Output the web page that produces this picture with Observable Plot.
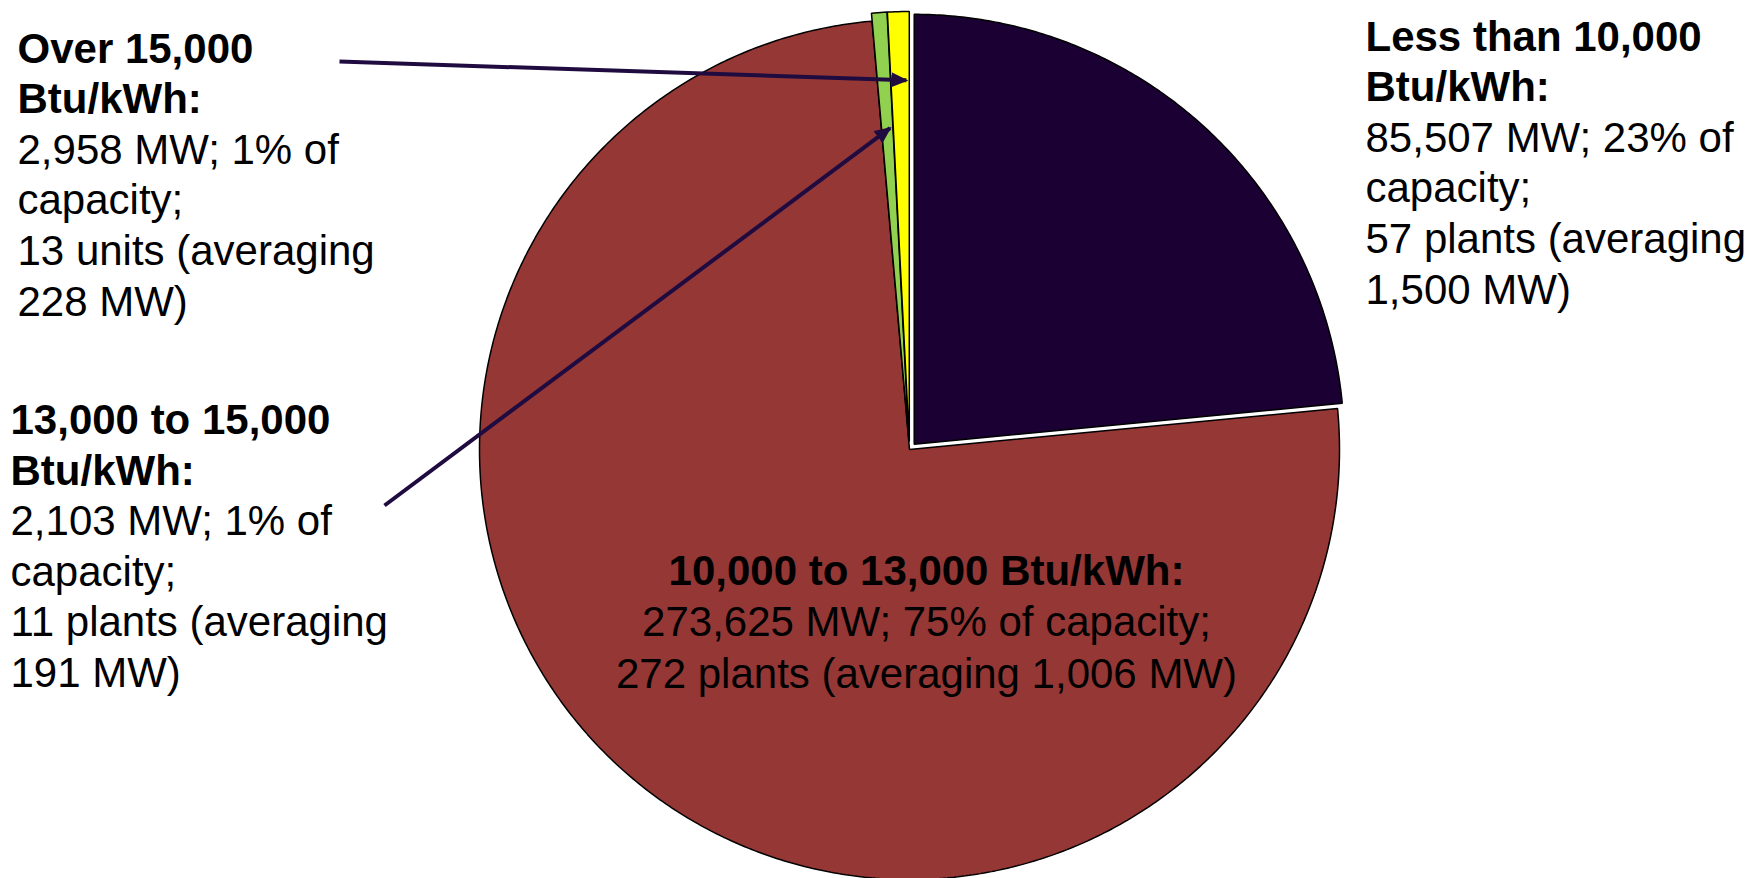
<!DOCTYPE html>
<html>
<head>
<meta charset="utf-8">
<script src="https://cdn.jsdelivr.net/npm/d3@7"></script>
<script src="https://cdn.jsdelivr.net/npm/@observablehq/plot@0.6"></script>
<style>
  html, body { margin: 0; padding: 0; background: #ffffff; }
  svg { display: block; }
</style>
</head>
<body>
<div id="chart"></div>
<script>
// ---- Data ----
const categories = ["Less than 10,000 Btu/kWh", "10,000 to 13,000 Btu/kWh", "13,000 to 15,000 Btu/kWh", "Over 15,000 Btu/kWh"];
const capacityMW = [85507, 273625, 2103, 2958];
const sliceColors = ["#1a0033", "#953735", "#92d050", "#ffff00"];

const labelLessTitle = ["Less than 10,000", "Btu/kWh:"];
const labelLessBody = ["85,507 MW; 23% of", "capacity;", "57 plants (averaging", "1,500 MW)"];
const labelMidTitle = ["10,000 to 13,000 Btu/kWh:"];
const labelMidBody = ["273,625 MW; 75% of capacity;", "272 plants (averaging 1,006 MW)"];
const label1315Title = ["13,000 to 15,000", "Btu/kWh:"];
const label1315Body = ["2,103 MW; 1% of", "capacity;", "11 plants (averaging", "191 MW)"];
const labelOverTitle = ["Over 15,000", "Btu/kWh:"];
const labelOverBody = ["2,958 MW; 1% of", "capacity;", "13 units (averaging", "228 MW)"];

// ---- Layout ----
const W = 1762, H = 878;
const cx = 909, cy = 449, R = 430;
const explode = [7, 0, 8, 8];
const FS = 42, LH = 50.6;
const arrowColor = "#1f0b40";

// ---- Pie geometry from data ----
const arcs = d3.pie().sort(null).startAngle(0).endAngle(2 * Math.PI)(capacityMW);
function sliceOffset(i) {
  const a = arcs[i];
  const mid = (a.startAngle + a.endAngle) / 2;
  return [explode[i] * Math.sin(mid), -explode[i] * Math.cos(mid)];
}
const drawOrder = [1, 0, 2, 3];
const piePoints = [];
for (const i of drawOrder) {
  const a = arcs[i];
  const [ox, oy] = sliceOffset(i);
  piePoints.push({slice: categories[i], color: sliceColors[i], x: cx + ox, y: cy + oy});
  const n = Math.max(2, Math.ceil((a.endAngle - a.startAngle) / (Math.PI / 360)));
  for (let k = 0; k <= n; k++) {
    const t = a.startAngle + (a.endAngle - a.startAngle) * k / n;
    piePoints.push({slice: categories[i], color: sliceColors[i], x: cx + ox + R * Math.sin(t), y: cy + oy - R * Math.cos(t)});
  }
}
function pointInSlice(i, frac, radFrac) {
  const a = arcs[i];
  const [ox, oy] = sliceOffset(i);
  const t = a.startAngle + (a.endAngle - a.startAngle) * frac;
  return [cx + ox + R * radFrac * Math.sin(t), cy + oy - R * radFrac * Math.cos(t)];
}
const tipOver = pointInSlice(3, 0.84, 0.84);
const tip1315 = pointInSlice(2, 0.74, 0.73);
const leaders = [
  {x1: 339, y1: 61, x2: tipOver[0], y2: tipOver[1]},
  {x1: 384, y1: 505, x2: tip1315[0], y2: tip1315[1]}
];

// ---- Text lines ----
function lines(arr, x, y0, lh) { return arr.map((text, i) => ({text, x, y: y0 + i * lh})); }
const titleLines = [
  ...lines(labelLessTitle, 1365, 50, LH),
  ...lines(label1315Title, 10, 433.5, LH),
  ...lines(labelOverTitle, 17, 62, LH)
];
const bodyLines = [
  ...lines(labelLessBody, 1365, 50 + 2 * LH, LH),
  ...lines(label1315Body, 10, 433.5 + 2 * LH, LH),
  ...lines(labelOverBody, 17, 62 + 2 * LH, LH)
];
const midTitleLines = lines(labelMidTitle, 926, 584, 51.8);
const midBodyLines = lines(labelMidBody, 926, 584 + 51.8, 51.8);

const plot = Plot.plot({
  width: W, height: H,
  marginTop: 0, marginRight: 0, marginBottom: 0, marginLeft: 0,
  x: {domain: [0, W], range: [0, W], axis: null},
  y: {domain: [0, H], range: [0, H], axis: null},
  color: {type: "identity"},
  style: {fontFamily: "'Liberation Sans', Arial, Helvetica, sans-serif", background: "#ffffff", overflow: "visible"},
  marks: [
    Plot.line(piePoints, {x: "x", y: "y", z: "slice", fill: "color", stroke: "#000000", strokeWidth: 1.5, curve: "linear-closed", strokeLinejoin: "miter"}),
    Plot.link(leaders, {x1: "x1", y1: "y1", x2: "x2", y2: "y2", stroke: arrowColor, strokeWidth: 4}),
    Plot.text(titleLines, {x: "x", y: "y", text: "text", textAnchor: "start", lineAnchor: "bottom", fontSize: FS, fontWeight: "bold", fill: "#000000"}),
    Plot.text(bodyLines, {x: "x", y: "y", text: "text", textAnchor: "start", lineAnchor: "bottom", fontSize: FS, fill: "#000000"}),
    Plot.text(midTitleLines, {x: "x", y: "y", text: "text", textAnchor: "middle", lineAnchor: "bottom", fontSize: FS, fontWeight: "bold", fill: "#000000"}),
    Plot.text(midBodyLines, {x: "x", y: "y", text: "text", textAnchor: "middle", lineAnchor: "bottom", fontSize: FS, fill: "#000000"})
  ]
});

document.getElementById("chart").appendChild(plot);

// arrow heads on the leader lines (second mark group)
const svg = d3.select(plot);
const defs = svg.insert("defs", ":first-child");
defs.append("marker")
  .attr("id", "arrowhead")
  .attr("viewBox", "0 0 17 15")
  .attr("refX", 15).attr("refY", 7.5)
  .attr("markerUnits", "userSpaceOnUse")
  .attr("markerWidth", 17).attr("markerHeight", 15)
  .attr("orient", "auto")
  .append("path").attr("d", "M0,0L17,7.5L0,15Z").attr("fill", arrowColor);
const groups = Array.from(plot.children).filter(n => n.tagName.toLowerCase() === "g");
d3.select(groups[1]).selectAll("path, line").attr("marker-end", "url(#arrowhead)");
</script>
</body>
</html>
